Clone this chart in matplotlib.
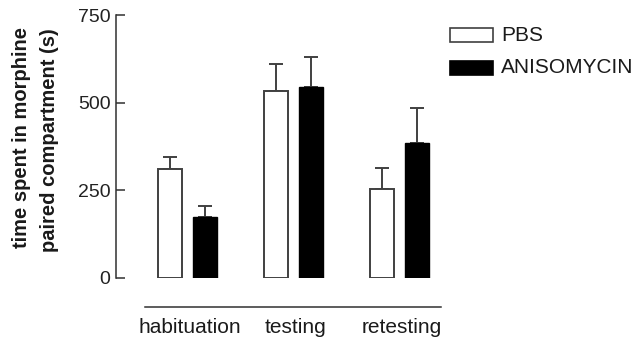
import matplotlib
matplotlib.use("Agg")
import matplotlib.pyplot as plt
from matplotlib.patches import Rectangle
import numpy as np

plt.rcParams['font.family'] = ['Liberation Sans', 'DejaVu Sans']

categories = ["habituation", "testing", "retesting"]
pbs_mean = [310, 533, 255]
pbs_err = [34, 78, 58]
aniso_mean = [174, 545, 386]
aniso_err = [31, 84, 100]
series_names = ["PBS", "ANISOMYCIN"]
yticks = [0, 250, 500, 750]

W, H = 635, 341
fig = plt.figure(figsize=(W / 100, H / 100), dpi=100)
# axes: y=0 at 278px, y=750 at 15px; x data -0.675 at 116px, unit 106px
x_left = -0.675
x_right = 2.5
ax = fig.add_axes([116 / W, 1 - 278 / H, (106 * (x_right - x_left)) / W, (278 - 15) / H])
ax.set_xlim(x_left, x_right)
ax.set_ylim(0, 750)

edge = '#404040'
x = np.arange(len(categories))
off = 0.165
bw = 0.222
ekw = dict(ecolor=edge, elinewidth=1.4, capsize=4.7, capthick=1.4)
ax.bar(x - off, pbs_mean, bw, color='white', edgecolor=edge, linewidth=1.4, zorder=2)
ax.errorbar(x - off, pbs_mean, yerr=[np.zeros(3), pbs_err], fmt='none', zorder=1, **ekw)
ax.bar(x + off, aniso_mean, bw, color='black', edgecolor='black', linewidth=1.0, zorder=2)
ax.errorbar(x + off, aniso_mean, yerr=[np.zeros(3), aniso_err], fmt='none', zorder=1, **ekw)

for s in ['top', 'right', 'bottom']:
    ax.spines[s].set_visible(False)
ax.spines['left'].set_color('#303030')
ax.spines['left'].set_linewidth(1.1)
ax.spines['left'].set_bounds(0, 750)
ax.set_yticks(yticks)
ax.set_yticklabels([str(v) for v in yticks])
ax.tick_params(axis='y', direction='in', length=6.5, width=1.1, color='#303030',
               labelsize=14, labelcolor='#222222', pad=4)
ax.set_xticks([])

# bottom group line
ax.plot([-0.403, 2.395], [-82, -82], color='#303030', lw=1.1, clip_on=False)
for xi, c in zip(x, categories):
    ax.text(xi + 0.02, -140, c, ha='center', va='center', fontsize=15, color='#1a1a1a',
            clip_on=False)

# y label (two lines, bold)
fig.text(22 / W, 1 - 137 / H, "time spent in morphine", rotation=90, ha='center', va='center',
         fontsize=14.5, fontweight='bold', color='#1a1a1a')
fig.text(50 / W, 1 - 140 / H, "paired compartment (s)", rotation=90, ha='center', va='center',
         fontsize=14.5, fontweight='bold', color='#1a1a1a')

# legend
leg = [(series_names[0], 'white', edge, 35.3), (series_names[1], 'black', 'black', 67.8)]
for name, fc, ec, yc in leg:
    fig.patches.append(Rectangle((450 / W, 1 - (yc + 7) / H), 43 / W, 14 / H,
                                 transform=fig.transFigure, facecolor=fc, edgecolor=ec,
                                 linewidth=1.2))
    fig.text(501 / W, 1 - yc / H, name, ha='left', va='center', fontsize=15, color='#1a1a1a')

fig.savefig("out.png", dpi=100, facecolor='white')
